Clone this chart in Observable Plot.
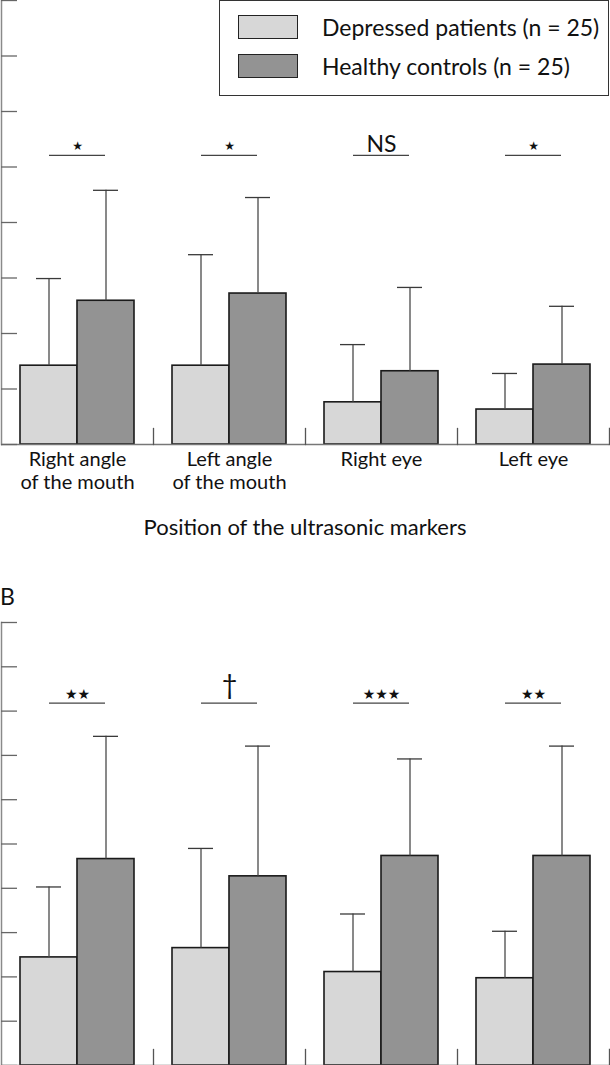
<!DOCTYPE html>
<html>
<head>
<meta charset="utf-8">
<script src="https://cdn.jsdelivr.net/npm/d3@7"></script>
<script src="https://cdn.jsdelivr.net/npm/@observablehq/plot@0.6"></script>
<style>
  body { margin: 0; background: #fff; }
  #page { position: relative; width: 610px; height: 1065px; overflow: hidden; background: #fff;
          font-family: Lato, "Noto Sans", sans-serif; color: #111; }
  #panelA { position: absolute; left: 0; top: 0; }
  #panelB { position: absolute; left: 0; top: 580px; }
  #xtitle { position: absolute; left: 0; width: 610px; top: 514px; text-align: center;
            font-size: 22px; line-height: 26px; }
  #blabel { position: absolute; left: 0; top: 583px; font-size: 23px; line-height: 26px; }
  #legend { position: absolute; left: 219px; top: 0; width: 390px; height: 96px; box-sizing: border-box;
            border: 1.3px solid #333; background: #fff; }
  .lg-row { position: absolute; left: 0; height: 26px; }
  .lg-sw { position: absolute; left: 18px; width: 60px; height: 24px; box-sizing: border-box;
           border: 1.5px solid #222; }
  .lg-tx { position: absolute; left: 102px; white-space: nowrap; font-size: 23px; line-height: 26px; }
</style>
</head>
<body>
<div id="page">
  <div id="panelA"></div>
  <div id="xtitle"></div>
  <div id="blabel"></div>
  <div id="panelB"></div>
  <div id="legend"></div>
</div>
<script>
// ---------- data ----------
const categories = ["Right angle\nof the mouth", "Left angle\nof the mouth", "Right eye", "Left eye"];
const groups = ["Depressed patients (n = 25)", "Healthy controls (n = 25)"];

// Panel A (values in y-tick units)
const meanA_depressed = [1.42, 1.42, 0.76, 0.63];
const sdA_depressed   = [1.57, 2.00, 1.04, 0.65];
const meanA_healthy   = [2.59, 2.72, 1.32, 1.44];
const sdA_healthy     = [1.99, 1.73, 1.51, 1.05];
const sigA = ["★", "★", "NS", "★"];
const sigLevelA = 5.21;
const yTicksA = [0, 1, 2, 3, 4, 5, 6, 7, 8];

// Panel B
const meanB_depressed = [2.44, 2.65, 2.11, 1.97];
const sdB_depressed   = [1.59, 2.25, 1.31, 1.06];
const meanB_healthy   = [4.66, 4.27, 4.73, 4.73];
const sdB_healthy     = [2.77, 2.94, 2.19, 2.48];
const sigB = ["★★", "†", "★★★", "★★"];
const sigLevelB = 8.18;
const yTicksB = [0, 1, 2, 3, 4, 5, 6, 7, 8, 9, 10];

const xTitle = "Position of the ultrasonic markers";
const panelLabelB = "B";
const fills = ["#d7d7d7", "#939393"];

// ---------- helpers ----------
function rowsFor(md, sd, mh, sh) {
  const rows = [];
  categories.forEach((c, i) => {
    rows.push({cat: c, group: groups[0], mean: md[i], upper: md[i] + sd[i]});
    rows.push({cat: c, group: groups[1], mean: mh[i], upper: mh[i] + sh[i]});
  });
  return rows;
}
function sigRowsFor(labels, level) {
  return categories.map((c, i) => ({cat: c, label: labels[i], level}));
}

function panel({rows, sig, yTicks, height, marginTop, marginBottom, labels, starSize}) {
  const yMax = yTicks[yTicks.length - 1];
  const frameH = height - marginTop - marginBottom;
  const isStar = d => d.label.includes("★");
  return Plot.plot({
    width: 610, height, marginTop, marginBottom, marginLeft: 1, marginRight: 1,
    style: {fontFamily: "Lato, 'Noto Sans', sans-serif", color: "#111", background: "transparent"},
    fx: {domain: categories, padding: 0, label: null, axis: null},
    x: {domain: groups, paddingInner: 0, paddingOuter: 0.32, axis: null},
    y: {domain: [0, yMax], axis: null},
    color: {domain: groups, range: fills},
    marks: [
      Plot.barY(rows, {fx: "cat", x: "group", y: "mean", fill: "group", stroke: "#1a1a1a", strokeWidth: 1.6}),
      Plot.ruleX(rows, {fx: "cat", x: "group", y1: "mean", y2: "upper", stroke: "#4a4a4a", strokeWidth: 1.3}),
      Plot.tickY(rows, {fx: "cat", x: "group", y: "upper", stroke: "#3a3a3a", strokeWidth: 1.3, insetLeft: 16, insetRight: 16}),
      Plot.ruleY(sig, {fx: "cat", y: "level", x1: () => groups[0], x2: () => groups[1],
                       insetLeft: 29, insetRight: 29, stroke: "#444", strokeWidth: 1.3}),
      Plot.text(sig.filter(isStar), {fx: "cat", y: "level", text: "label", dy: -9,
                       fontSize: starSize, fontFamily: "DejaVu Sans", fill: "#111"}),
      Plot.text(sig.filter(d => d.label === "NS"), {fx: "cat", y: "level", text: "label",
                       dy: -3, fontSize: 23, lineAnchor: "bottom",
                       fontFamily: "Lato, 'DejaVu Sans', sans-serif", fill: "#111"}),
      Plot.text(sig.filter(d => d.label === "†"), {fx: "cat", y: "level", text: "label",
                       dy: -9, fontSize: 27, lineAnchor: "bottom",
                       fontFamily: "Lato, 'DejaVu Sans', sans-serif", fill: "#111"}),
      Plot.ruleY([0], {stroke: "#777", strokeWidth: 1.5}),
      Plot.frame({anchor: "left", facetAnchor: "left", stroke: "#8a8a8a", strokeWidth: 1.5}),
      Plot.frame({anchor: "right", insetTop: frameH - 16, stroke: "#555", strokeWidth: 1.3}),
      Plot.axisY({ticks: yTicks, tickSize: -16, tickFormat: () => "", label: null, stroke: "#666", strokeWidth: 1.3}),
      labels ? Plot.axisFx({anchor: "bottom", tickSize: 0, tickPadding: 6, label: null, fontSize: 20,
                            lineHeight: 1.12, fill: "#111"}) : null
    ]
  });
}

// ---------- render ----------
const rowsA = rowsFor(meanA_depressed, sdA_depressed, meanA_healthy, sdA_healthy);
const rowsB = rowsFor(meanB_depressed, sdB_depressed, meanB_healthy, sdB_healthy);

document.getElementById("panelA").append(panel({
  rows: rowsA, sig: sigRowsFor(sigA, sigLevelA), yTicks: yTicksA,
  height: 510, marginTop: 0, marginBottom: 66, labels: true, starSize: 12
}));
document.getElementById("panelB").append(panel({
  rows: rowsB, sig: sigRowsFor(sigB, sigLevelB), yTicks: yTicksB,
  height: 485, marginTop: 42, marginBottom: 0, labels: false, starSize: 14
}));

document.getElementById("xtitle").textContent = xTitle;
document.getElementById("blabel").textContent = panelLabelB;

const legend = document.getElementById("legend");
groups.forEach((g, i) => {
  const row = document.createElement("div");
  row.className = "lg-row";
  row.style.top = (i === 0 ? 14 : 53) + "px";
  const sw = document.createElement("div");
  sw.className = "lg-sw";
  sw.style.background = fills[i];
  const tx = document.createElement("div");
  tx.className = "lg-tx";
  tx.style.top = "-1px";
  tx.textContent = g;
  row.append(sw, tx);
  legend.append(row);
});
</script>
</body>
</html>
